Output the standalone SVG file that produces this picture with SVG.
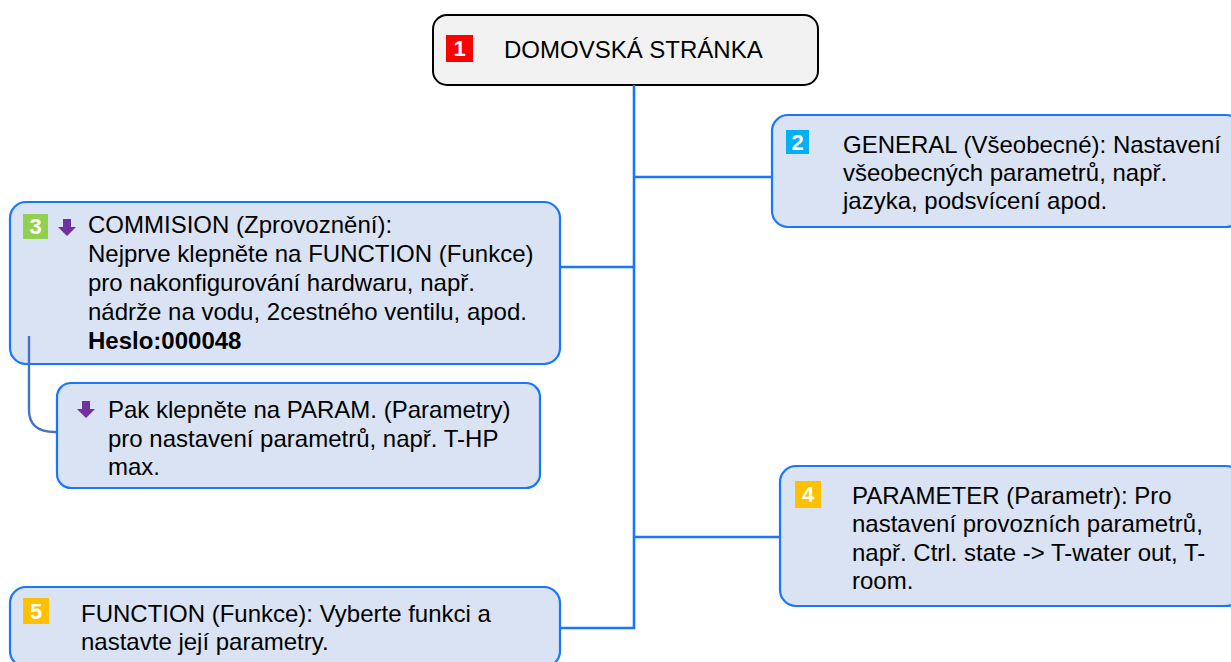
<svg xmlns="http://www.w3.org/2000/svg" width="1231" height="662" viewBox="0 0 1231 662">
<style>
.node{fill:#dae3f3;stroke:#1a75ff;stroke-width:2.2}
.t{font-family:"Liberation Sans",Arial,sans-serif;font-size:24px;fill:#000}
.b{font-family:"Liberation Sans",Arial,sans-serif;font-size:22px;font-weight:bold;fill:#fff;text-anchor:middle}
.conn{fill:none;stroke:#1a75ff;stroke-width:2.6}
.arr{fill:#7030a0}
</style>
<defs>
<path id="darr" d="M-4,0 H4 V8 H9 L0,17 L-9,8 H-4 Z"/>
</defs>
<g id="node1">
<rect x="433" y="15" width="385" height="70" rx="14" fill="#f2f2f2" stroke="#000" stroke-width="2"/>
<rect x="446" y="35" width="27" height="27" fill="#ff0000"/>
<text class="b" x="459.5" y="56">1</text>
<text class="t" x="504" y="58">DOMOVSKÁ STRÁNKA</text>
</g>
<g id="node2">
<rect class="node" x="772" y="115" width="470" height="112" rx="16"/>
<rect x="786" y="130" width="23" height="24" fill="#00b0f0"/>
<text class="b" x="797.5" y="150">2</text>
<text class="t" x="843" y="153">GENERAL (Všeobecné): Nastavení</text>
<text class="t" x="843" y="181">všeobecných parametrů, např.</text>
<text class="t" x="843" y="209">jazyka, podsvícení apod.</text>
</g>
<g id="node3">
<rect class="node" x="10" y="202" width="550" height="162" rx="16"/>
<rect x="23" y="214" width="25" height="25" fill="#92d050"/>
<text class="b" x="35.5" y="234">3</text>
<use href="#darr" class="arr" x="67" y="219"/>
<text class="t" x="88" y="233">COMMISION (Zprovoznění):</text>
<text class="t" x="88" y="262">Nejprve klepněte na FUNCTION (Funkce)</text>
<text class="t" x="88" y="291">pro nakonfigurování hardwaru, např.</text>
<text class="t" x="88" y="320">nádrže na vodu, 2cestného ventilu, apod.</text>
<text class="t" x="88" y="349" font-weight="bold">Heslo:000048</text>
</g>
<g id="node3b">
<rect class="node" x="57" y="383" width="483" height="105" rx="14"/>
<use href="#darr" class="arr" x="86" y="401"/>
<text class="t" x="108" y="418">Pak klepněte na PARAM. (Parametry)</text>
<text class="t" x="108" y="447">pro nastavení parametrů, např. T-HP</text>
<text class="t" x="108" y="475">max.</text>
</g>
<g id="node4">
<rect class="node" x="780" y="466" width="462" height="140" rx="16"/>
<rect x="795" y="481" width="26" height="27" fill="#ffc000"/>
<text class="b" x="808" y="502">4</text>
<text class="t" x="852" y="504">PARAMETER (Parametr): Pro</text>
<text class="t" x="852" y="532">nastavení provozních parametrů,</text>
<text class="t" x="852" y="561">např. Ctrl. state -&gt; T-water out, T-</text>
<text class="t" x="852" y="589">room.</text>
</g>
<g id="node5">
<rect class="node" x="10" y="587" width="550" height="80" rx="16"/>
<rect x="23" y="598" width="26" height="26" fill="#ffc000"/>
<text class="b" x="36" y="619">5</text>
<text class="t" x="81" y="622">FUNCTION (Funkce): Vyberte funkci a</text>
<text class="t" x="81" y="650">nastavte její parametry.</text>
</g>
<g id="connectors">
<path class="conn" d="M634,85 V628 H561"/>
<path class="conn" d="M634,177 H771"/>
<path class="conn" d="M634,267 H561"/>
<path class="conn" d="M634,537 H779"/>
<path d="M29,336 V410 Q29,432 55,432 H56" fill="none" stroke="#4472c4" stroke-width="2.4"/>
</g>
</svg>
